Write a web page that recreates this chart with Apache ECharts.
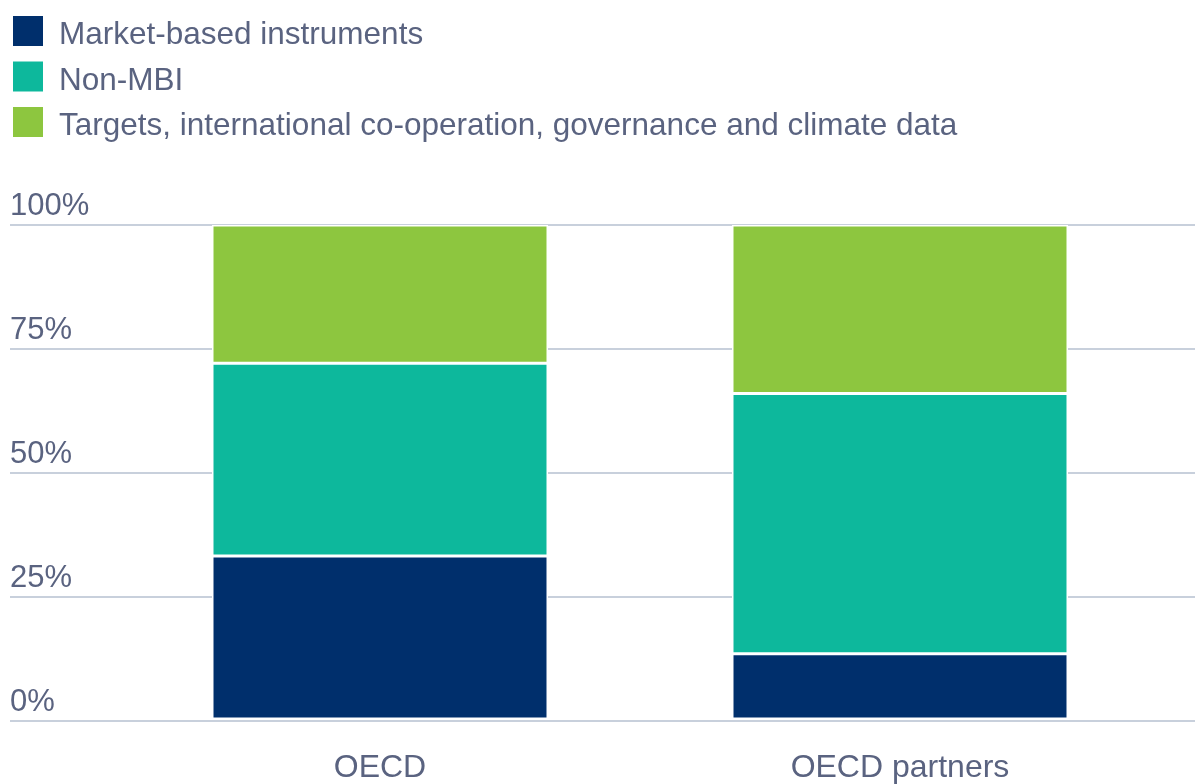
<!DOCTYPE html>
<html><head><meta charset="utf-8">
<script src="https://cdn.jsdelivr.net/npm/echarts@6/dist/echarts.min.js"></script>
<style>html,body{margin:0;padding:0;background:#fff}#c{width:1195px;height:784px}</style>
</head><body><div id="c"></div>
<script>
const categories = ['OECD', 'OECD partners'];
const seriesNames = ['Market-based instruments', 'Non-MBI', 'Targets, international co-operation, governance and climate data'];
const mbi = [33, 13.2];
const nonMbi = [39, 52.7];
const targets = [28, 34.1];
const yTicks = [0, 25, 50, 75, 100];
const colors = ['#002f6c', '#0db89c', '#8dc63f'];
const textColor = '#5a6380';
const font = 'Liberation Sans, Arial, sans-serif';

const values = [mbi, nonMbi, targets];
const chart = echarts.init(document.getElementById('c'));
chart.setOption({
  animation: false,
  legend: {
    orient: 'vertical', left: 6, top: 9, itemWidth: 32, itemHeight: 32, itemGap: 8,
    icon: 'rect',
    formatter: n => '{a|' + n + '}',
    textStyle: { color: textColor, fontSize: 31.5, fontFamily: font, padding: [0, 0, 0, 10],
      rich: { a: { color: textColor, fontSize: 31.5, fontFamily: font, padding: [9, 0, 0, 0] } } },
    data: seriesNames
  },
  grid: [
    { left: 10, right: 0, top: 225, bottom: 63 },
    { left: 120, width: 1040, top: 225, bottom: 63 }
  ],
  xAxis: [
    { gridIndex: 0, type: 'value', show: false, min: 0, max: 1 },
    { gridIndex: 1, type: 'category', data: categories,
      axisLine: { show: false }, axisTick: { show: false },
      axisLabel: { color: textColor, fontSize: 32, fontFamily: font, margin: 33 } }
  ],
  yAxis: [
    { gridIndex: 0, type: 'value', min: 0, max: 100, interval: 25,
      axisLine: { show: false }, axisTick: { show: false },
      splitLine: { lineStyle: { color: '#c8d0dc', width: 2 } },
      axisLabel: { inside: true, margin: 0, verticalAlign: 'bottom', padding: [0, 0, 3, 0],
        color: textColor, fontSize: 31, fontFamily: font,
        formatter: v => yTicks.includes(v) ? v + '%' : '' } },
    { gridIndex: 1, type: 'value', min: 0, max: 100, show: false, splitLine: { show: false } }
  ],
  series: seriesNames.map((n, i) => ({
    name: n, type: 'bar', stack: 'total', xAxisIndex: 1, yAxisIndex: 1,
    barWidth: 336, data: values[i],
    itemStyle: { color: colors[i], borderColor: '#fff', borderWidth: 1.5 }
  }))
});
</script></body></html>
